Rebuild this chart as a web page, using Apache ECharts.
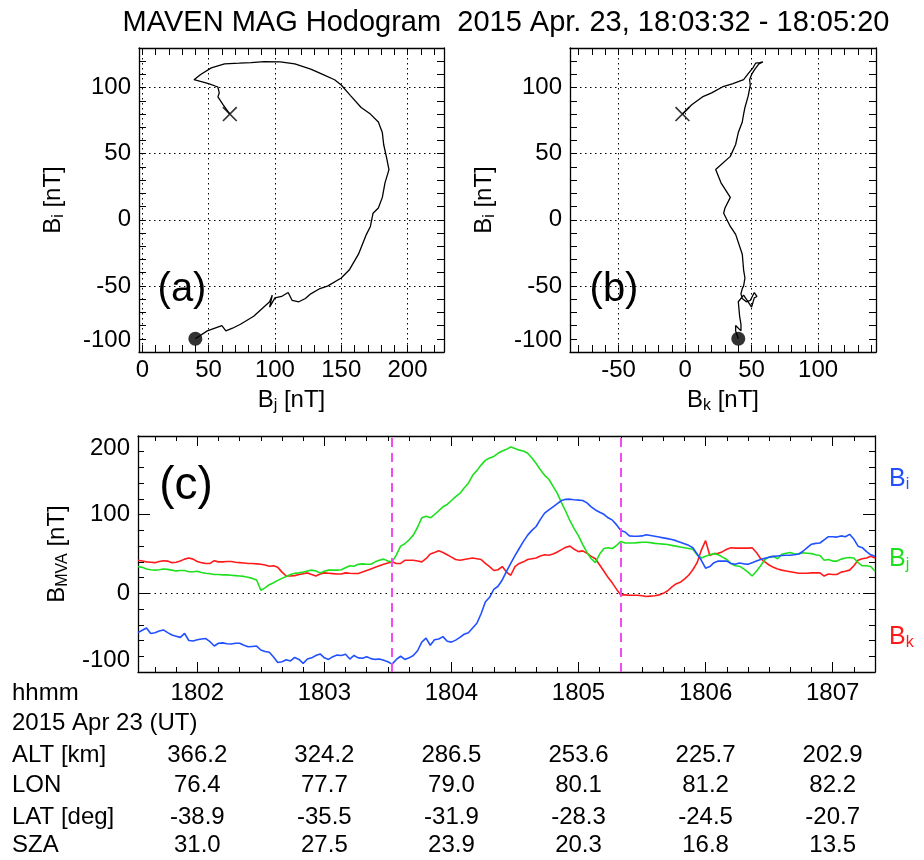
<!DOCTYPE html>
<html>
<head>
<meta charset="utf-8">
<title>MAVEN MAG Hodogram</title>
<script src="https://cdn.jsdelivr.net/npm/echarts@6/dist/echarts.min.js"></script>
<style>
  html, body { margin: 0; padding: 0; background: #fff; }
  #chart { width: 924px; height: 860px; }
</style>
</head>
<body>
<div id="chart"></div>
<script>
// MAVEN MAG, 2015 Apr 23, field in the MVA frame (nT).
// One sample every DT seconds, starting T0 seconds after 18:00:00 UT.
var T0 = 92;
var DT = 2;
var WIN_START = 212;   // 18:03:32, start of the hodogram interval
var WIN_END = 320;     // 18:05:20, end of the hodogram interval

var bi = [
  -50, -47, -44, -51, -50, -48, -46.5, -50, -53, -54.5,
  -56, -51, -60, -60.5, -59, -58, -57.5, -61.5, -67, -63.5,
  -63, -64, -64.5, -63.5, -63.5, -66, -68, -67.5, -67, -72,
  -74, -75, -81, -88, -87, -84.5, -86, -81.5, -84, -89,
  -83.5, -82, -79, -77, -82, -84, -80.5, -78.5, -79, -77.5,
  -83.5, -79, -82, -82.5, -80.5, -83, -84, -83.5, -85, -87,
  -90, -84, -80, -84, -82, -79, -73, -62, -57, -66,
  -59, -58, -55, -61, -62, -59.5, -56, -52, -50, -44,
  -38, -26, -11, -5, 5, 9, 17, 28, 38, 48,
  57, 66, 74, 80, 85, 94, 102, 106, 110, 114,
  118, 119.5, 119.7, 119, 118.5, 118, 115, 110, 106, 103,
  100.5, 96, 93, 87, 80, 78, 73, 72.5, 72.5, 73,
  74.5, 73.5, 72.5, 71.5, 70.5, 69.5, 68.5, 67, 65, 63,
  61, 58, 50, 42, 32, 34, 39, 41, 41, 41,
  38, 37, 38.5, 37.5, 37, 39, 41, 43, 44.5, 46,
  47, 47.5, 48, 48.4, 48.5, 49, 50, 53.5, 58, 62.5,
  63.5, 64, 68, 72, 72, 71.5, 73, 72, 75, 69,
  60, 58, 53, 49, 47
];

var bj = [
  34, 33, 31, 30, 29.5, 30, 31, 30.5, 29.5, 28.5,
  29, 29, 27.5, 27.5, 28, 26.5, 25.5, 25, 24, 24,
  23.5, 23.5, 23, 22.5, 22, 21.5, 20.5, 19, 17, 4,
  7, 11, 13.5, 16.5, 19, 21.5, 24, 25.5, 26, 27,
  28.5, 29.5, 28.5, 26, 28, 29.5, 29.5, 29.5, 30, 32.5,
  35, 34.5, 37, 37.5, 37, 37, 40, 42, 43.5, 41,
  40, 49, 60, 63, 68, 74, 84, 96, 98, 96,
  100, 105, 110, 113, 118, 123, 127, 134, 140, 150,
  156, 163, 169, 172, 174, 178, 181, 183, 186, 184,
  182, 181, 178, 172, 165, 157, 150, 145, 136, 127,
  115, 104, 92, 82, 73, 62, 52, 44, 39, 50,
  57, 58, 57, 61, 66, 64, 64, 64, 64.5, 65,
  65, 64.5, 63.5, 63, 62.5, 62, 61, 60, 59, 58,
  57, 56, 49, 45, 47, 49, 50.5, 49, 46, 43,
  38, 35, 34.5, 31, 27, 22, 28, 35, 43, 46,
  47, 44, 49.5, 51, 52, 50, 50, 51.5, 51, 50.5,
  49, 48, 42, 43, 41, 41, 43.5, 45, 45.5, 45,
  39, 35, 35, 34, 28
];

var bk = [
  42, 41, 40, 39.5, 39, 40.5, 41.5, 41, 39, 39.5,
  41, 43.5, 45, 43.5, 40.5, 39, 38, 38, 41.5, 40,
  40, 40.5, 40.5, 39.5, 39, 38.5, 38, 38, 37.5, 37,
  36, 34.5, 35, 33, 27, 22, 22, 22.5, 24, 25,
  26, 24, 22, 24.5, 26, 25.5, 25, 24.5, 24.5, 26,
  25.5, 25.3, 25.3, 27, 29, 31, 33, 35, 37, 38.5,
  40, 38, 38, 42, 42, 42, 41, 40, 44, 50,
  52, 54, 52, 49, 46, 43, 42, 43, 44, 45,
  44, 43, 38, 34, 29, 30, 34, 27, 23, 34,
  38, 40, 43, 44, 45, 47.5, 49, 48.5, 50, 52.5,
  55.5, 58.5, 60, 56, 53, 54, 51, 47, 44, 36,
  28, 20, 13, 5, -2, -2, -2.5, -2.5, -2.5, -3,
  -4, -3.5, -3, -2, 0, 3, 8, 12, 14, 18,
  23, 30, 39, 55, 67, 48, 50.5, 51, 53, 56,
  58, 57.5, 57.5, 57.5, 57.5, 58, 52, 44, 40, 36,
  33, 31, 29.5, 28.5, 27.5, 26.5, 25.5, 25.5, 25.5, 26,
  26, 26, 22, 24.5, 24, 24, 27, 28, 29.5, 35,
  42, 44, 45, 47, 45
];

// Minute ticks of the time axis (minutes after 18:00) and their rows of labels
var minuteTicks = [2, 3, 4, 5, 6, 7];
var hhmmLabels = ['1802', '1803', '1804', '1805', '1806', '1807'];
var altKm = ['366.2', '324.2', '286.5', '253.6', '225.7', '202.9'];
var lonDeg = ['76.4', '77.7', '79.0', '80.1', '81.2', '82.2'];
var latDeg = ['-38.9', '-35.5', '-31.9', '-28.3', '-24.5', '-20.7'];
var szaDeg = ['31.0', '27.5', '23.9', '20.3', '16.8', '13.5'];

// ---------------------------------------------------------------------------

var FONT = '"Liberation Sans", Helvetica, Arial, sans-serif';
var INK = '#000000';
var C_BI = '#2050ff';
var C_BJ = '#1ee01e';
var C_BK = '#ff1a1a';
var C_MVA = '#f04cf0';

var i0 = (WIN_START - T0) / DT;
var i1 = (WIN_END - T0) / DT;
var tMin = T0 / 60;
var tMax = (T0 + DT * (bi.length - 1)) / 60;

function timeSeries(arr) {
  return arr.map(function (v, k) { return [(T0 + DT * k) / 60, v]; });
}

function hodoPath(xs, ys) {
  var out = [];
  for (var k = i0; k <= i1; k++) out.push([xs[k], ys[k]]);
  return out;
}

function subRich(color, size, subSize, drop) {
  return {
    b: { color: color, fontFamily: FONT, fontSize: size },
    s: { color: color, fontFamily: FONT, fontSize: subSize, padding: [drop, 0, 0, 0] }
  };
}

var FRAME = { show: true, onZero: false, lineStyle: { color: INK, width: 1.3 } };
function ticks(len) {
  return { show: true, inside: true, length: len, lineStyle: { color: INK, width: 1 } };
}
function minor(n, len) {
  return { show: true, splitNumber: n, length: len, lineStyle: { color: INK, width: 1 } };
}
function label(extra) {
  var base = { color: INK, fontFamily: FONT, fontSize: 24, hideOverlap: false };
  for (var key in extra) base[key] = extra[key];
  return base;
}
var DOTTED = { show: true, lineStyle: { color: INK, width: 1, type: [1.5, 3.5] } };

// ── Hodogram axes ──────────────────────────────────────────────────────────

function hodoX(grid, min, max, sub) {
  return [{
    type: 'value', gridIndex: grid, position: 'bottom', min: min, max: max,
    axisLine: FRAME, axisTick: ticks(7), minorTick: minor(5, 7), splitLine: DOTTED,
    axisLabel: label({ margin: 6, showMinLabel: false, showMaxLabel: false }),
    name: '{b|B}{s|' + sub + '} [nT]', nameLocation: 'middle', nameGap: 34,
    nameTextStyle: { color: INK, fontFamily: FONT, fontSize: 24, rich: subRich(INK, 24, 16, 12) }
  }, {
    type: 'value', gridIndex: grid, position: 'top', min: min, max: max,
    axisLine: FRAME, axisTick: ticks(7), minorTick: minor(5, 7),
    splitLine: { show: false }, axisLabel: { show: false }
  }];
}

function hodoY(grid) {
  return [{
    type: 'value', gridIndex: grid, position: 'left', min: -100, max: 130,
    axisLine: FRAME, axisTick: ticks(7), minorTick: minor(5, 7), splitLine: DOTTED,
    axisLabel: label({ margin: 8, showMaxLabel: false, verticalAlignMinLabel: 'bottom' }),
    name: '{b|B}{s|i} [nT]', nameLocation: 'middle', nameGap: 72, nameRotate: 90,
    nameTextStyle: { color: INK, fontFamily: FONT, fontSize: 24, rich: subRich(INK, 24, 16, 12) }
  }, {
    type: 'value', gridIndex: grid, position: 'right', min: -100, max: 130,
    axisLine: FRAME, axisTick: ticks(7), minorTick: minor(5, 7),
    splitLine: { show: false }, axisLabel: { show: false }
  }];
}

// ── Time-series axes ───────────────────────────────────────────────────────

function minuteLabel(list) {
  return function (v) {
    var i = minuteTicks.indexOf(Math.round(v));
    return i < 0 ? '' : list[i];
  };
}

var timeX = [{
  type: 'value', gridIndex: 2, position: 'bottom', min: tMin, max: tMax,
  axisLine: FRAME, axisTick: ticks(10), minorTick: minor(6, 5), splitLine: { show: false },
  axisLabel: label({ margin: 9, showMinLabel: false, showMaxLabel: false, formatter: minuteLabel(hhmmLabels) })
}, {
  type: 'value', gridIndex: 2, position: 'top', min: tMin, max: tMax,
  axisLine: FRAME, axisTick: ticks(10), minorTick: minor(6, 5), splitLine: { show: false },
  axisLabel: { show: false }
}];

var ephemRows = [
  { values: altKm, offset: 62 },
  { values: lonDeg, offset: 92 },
  { values: latDeg, offset: 124 },
  { values: szaDeg, offset: 152 }
];
ephemRows.forEach(function (row) {
  timeX.push({
    type: 'value', gridIndex: 2, position: 'bottom', offset: row.offset, min: tMin, max: tMax,
    axisLine: { show: false, onZero: false }, axisTick: { show: false }, splitLine: { show: false },
    axisLabel: label({ margin: 9, showMinLabel: false, showMaxLabel: false, formatter: minuteLabel(row.values) })
  });
});

var timeY = [{
  type: 'value', gridIndex: 2, position: 'left', min: -100, max: 200, interval: 100,
  axisLine: FRAME, axisTick: ticks(12), minorTick: minor(5, 6), splitLine: { show: false },
  axisLabel: label({ margin: 8, verticalAlignMinLabel: 'bottom', verticalAlignMaxLabel: 'top' }),
  name: '{b|B}{s|MVA} [nT]', nameLocation: 'middle', nameGap: 66, nameRotate: 90,
  nameTextStyle: { color: INK, fontFamily: FONT, fontSize: 24, rich: subRich(INK, 24, 16, 12) }
}, {
  type: 'value', gridIndex: 2, position: 'right', min: -100, max: 200, interval: 100,
  axisLine: FRAME, axisTick: ticks(12), minorTick: minor(5, 6), splitLine: { show: false },
  axisLabel: { show: false }
}];

// ── Series ─────────────────────────────────────────────────────────────────

var X_MARK = 'path://M0,1.2L1.2,0L15,13.8L13.8,15Z M13.8,0L15,1.2L1.2,15L0,13.8Z';

function hodoSeries(xAxis, yAxis, xs) {
  return [{
    type: 'line', xAxisIndex: xAxis, yAxisIndex: yAxis, data: hodoPath(xs, bi),
    symbol: 'none', lineStyle: { color: INK, width: 1.3 }, z: 3
  }, {
    type: 'scatter', xAxisIndex: xAxis, yAxisIndex: yAxis, data: [[xs[i0], bi[i0]]],
    symbol: 'circle', symbolSize: 14, itemStyle: { color: INK }, z: 4
  }, {
    type: 'scatter', xAxisIndex: xAxis, yAxisIndex: yAxis, data: [[xs[i1], bi[i1]]],
    symbol: X_MARK, symbolSize: 15, itemStyle: { color: INK }, z: 4
  }];
}

function traceSeries(arr, color, extra) {
  var s = {
    type: 'line', xAxisIndex: 4, yAxisIndex: 4, data: timeSeries(arr),
    symbol: 'none', lineStyle: { color: color, width: 1.6 }, z: 3
  };
  for (var key in extra) s[key] = extra[key];
  return s;
}

var series = []
  .concat(hodoSeries(0, 0, bj))
  .concat(hodoSeries(2, 2, bk))
  .concat([
    traceSeries(bk, C_BK, {
      markLine: {
        silent: true, symbol: 'none', label: { show: false }, animation: false,
        data: [
          { yAxis: 0, lineStyle: { color: INK, width: 1, type: [1.5, 4] } },
          { xAxis: WIN_START / 60, lineStyle: { color: C_MVA, width: 2, type: [9, 6] } },
          { xAxis: WIN_END / 60, lineStyle: { color: C_MVA, width: 2, type: [9, 6] } }
        ]
      }
    }),
    traceSeries(bj, C_BJ),
    traceSeries(bi, C_BI)
  ]);

// ── Free text ──────────────────────────────────────────────────────────────

function txt(x, y, text, size, align, color, rich) {
  var style = {
    text: text, fill: color || INK, font: size + 'px ' + FONT,
    align: align || 'left', verticalAlign: 'middle'
  };
  if (rich) style.rich = rich;
  return { type: 'text', x: x, y: y, style: style, z: 10 };
}

var graphics = [
  txt(506, 23, 'MAVEN MAG Hodogram  2015 Apr. 23, 18:03:32 - 18:05:20', 29, 'center'),
  txt(182, 290, '(a)', 40, 'center'),
  txt(614, 290, '(b)', 40, 'center'),
  txt(186, 486, '(c)', 46, 'center'),
  txt(889, 479, '{b|B}{s|i}', 24, 'left', C_BI, subRich(C_BI, 25, 16, 12)),
  txt(889, 559, '{b|B}{s|j}', 24, 'left', C_BJ, subRich(C_BJ, 25, 16, 12)),
  txt(889, 637, '{b|B}{s|k}', 24, 'left', C_BK, subRich(C_BK, 25, 16, 12)),
  txt(12, 693, 'hhmm', 24),
  txt(12, 723, '2015 Apr 23 (UT)', 24),
  txt(12, 755, 'ALT [km]', 24),
  txt(12, 785, 'LON', 24),
  txt(12, 817, 'LAT [deg]', 24),
  txt(12, 845, 'SZA', 24)
];

var chart = echarts.init(document.getElementById('chart'), null, { renderer: 'canvas' });
chart.setOption({
  animation: false,
  backgroundColor: '#ffffff',
  textStyle: { fontFamily: FONT, color: INK },
  grid: [
    { left: 139, top: 48, width: 305, height: 304, containLabel: false, outerBoundsMode: 'none' },
    { left: 570, top: 48, width: 306, height: 304, containLabel: false, outerBoundsMode: 'none' },
    { left: 138, top: 436, width: 737, height: 236, containLabel: false, outerBoundsMode: 'none' }
  ],
  xAxis: hodoX(0, -2.5, 227.5, 'j').concat(hodoX(1, -86.5, 143.5, 'k')).concat(timeX),
  yAxis: hodoY(0).concat(hodoY(1)).concat(timeY),
  series: series,
  graphic: graphics
});
</script>
</body>
</html>
